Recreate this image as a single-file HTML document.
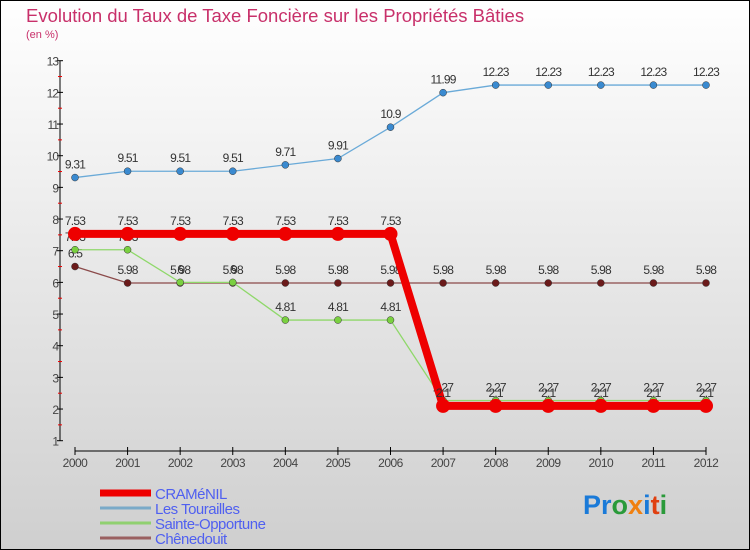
<!DOCTYPE html>
<html><head><meta charset="utf-8"><style>
body{margin:0}
svg{display:block;font-family:"Liberation Sans",sans-serif}
</style></head><body>
<svg width="750" height="550" viewBox="0 0 750 550">
<defs><linearGradient id="bg" x1="0" y1="0" x2="0" y2="1"><stop offset="0" stop-color="#ffffff"/><stop offset="1" stop-color="#cfcfcf"/></linearGradient></defs>
<rect x="0.5" y="0.5" width="749" height="549" fill="url(#bg)" stroke="#000"/>
<text x="26" y="22" font-size="18.5" fill="#c8306a">Evolution du Taux de Taxe Foncière sur les Propriétés Bâties</text>
<text x="26" y="38" font-size="11" fill="#c8306a">(en %)</text>
<g id="axes"></g>
<g id="series"></g>
<g id="legend"></g>
<text x="583" y="514" font-size="27" font-weight="bold"><tspan fill="#1a7ad8">Pr</tspan><tspan fill="#2a9a3a">o</tspan><tspan fill="#f08010">x</tspan><tspan fill="#1a7ad8">i</tspan><tspan fill="#e04010">t</tspan><tspan fill="#2a9a3a">i</tspan></text>
</svg>
<script>
const years=["2000","2001","2002","2003","2004","2005","2006","2007","2008","2009","2010","2011","2012"];
const yTicks=[1,2,3,4,5,6,7,8,9,10,11,12,13];
const cramenil=[7.53,7.53,7.53,7.53,7.53,7.53,7.53,2.1,2.1,2.1,2.1,2.1,2.1];
const tourailles=[9.31,9.51,9.51,9.51,9.71,9.91,10.9,11.99,12.23,12.23,12.23,12.23,12.23];
const sainte=[7.03,7.03,6,6,4.81,4.81,4.81,2.27,2.27,2.27,2.27,2.27,2.27];
const chenedouit=[6.5,5.98,5.98,5.98,5.98,5.98,5.98,5.98,5.98,5.98,5.98,5.98,5.98];
const NS="http://www.w3.org/2000/svg";
const X=i=>75+i*(706-75)/(years.length-1);
const Y=v=>440.7-(v-1)*(440.7-60.7)/12;
function mk(t,a,p){const e=document.createElementNS(NS,t);for(const k in a)e.setAttribute(k,a[k]);p.appendChild(e);return e;}
const ax=document.getElementById('axes');
let e=mk('line',{x1:60,y1:Y(13),x2:60,y2:Y(1),stroke:'#000'},ax);


yTicks.forEach(v=>{
 mk('line',{x1:57,x2:63,y1:Y(v),y2:Y(v),stroke:'#000'},ax);
 if(v<13) mk('line',{x1:58,x2:62,y1:Y(v+0.5),y2:Y(v+0.5),stroke:'#e00'},ax);
 const t=mk('text',{x:58,y:Y(v)+5,'font-size':12,'text-anchor':'end',fill:'#444','letter-spacing':'-1'},ax);
 t.textContent=v;
 
 
});
e=mk('line',{x1:75,y1:451,x2:706,y2:451,stroke:'#000'},ax);


years.forEach((y,i)=>{
 mk('line',{x1:X(i),x2:X(i),y1:447,y2:455,stroke:'#000'},ax);
 const t=mk('text',{x:X(i),y:467,'font-size':12,'text-anchor':'middle',fill:'#444','letter-spacing':'-0.5'},ax);
 t.textContent=y;
 
 
});
const sg=document.getElementById('series');
function draw(vals,color,w,r,dot,name){
 const g=mk('g',{},sg);
 
 
 mk('polyline',{points:vals.map((v,i)=>X(i)+','+Y(v)).join(' '),fill:'none',stroke:color,'stroke-width':w},g);
 vals.forEach((v,i)=>{
  const c=mk('circle',{cx:X(i),cy:Y(v),r:r,fill:dot,stroke:'#333','stroke-width':r>5?0:0.5},g);
  
  
  const t=mk('text',{x:X(i),y:Y(v)-9,'font-size':12,'text-anchor':'middle',fill:'#333','letter-spacing':'-0.8'},g);
  t.textContent=String(v);
  
  
 });
}
draw(chenedouit,'#8b4a4a',1.3,3.5,'#6b1a1a','chenedouit');
draw(sainte,'#8fd86a',1.3,3.5,'#7ad040','sainte-opportune');
draw(tourailles,'#6aaad8',1.3,3.5,'#3a8ad0','les-tourailles');
draw(cramenil,'#ee0000',8,7,'#ee0000','cramenil');
const lg=document.getElementById('legend');
[["CRAMéNIL","#ee0000",7],["Les Tourailles","#7aaac8",3],["Sainte-Opportune","#90d070",3],["Chênedouit","#9a6060",3]].forEach((d,i)=>{
 const yy=493+i*15;
 const g=mk('g',{},lg);
 
 
 mk('rect',{x:100,y:yy-d[2]/2,width:51,height:d[2],fill:d[1]},g);
 const t=mk('text',{x:155,y:yy+6,'font-size':15,fill:'#5060f0','letter-spacing':'-0.5'},g);
 t.textContent=d[0];
});
</script>
</body></html>
